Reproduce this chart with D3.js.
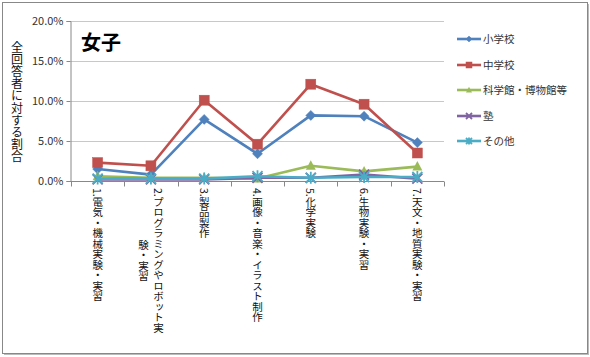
<!DOCTYPE html>
<html><head><meta charset="utf-8">
<script src="https://cdn.jsdelivr.net/npm/d3@7"></script>
<style>
body{margin:0;background:#fff;}
text{font-family:"Noto Sans CJK JP","Noto Sans",sans-serif;}
</style></head>
<body><svg id="c" width="590" height="357"></svg>
<script>
const categories = ["1.電気・機械実験・実習","2.プログラミングやロボット実験・実習","3.製品製作","4.画像・音楽・イラスト制作","5.化学実験","6.生物実験・実習","7.天文・地質実験・実習"];
const seriesNames = ["小学校","中学校","科学館・博物館等","塾","その他"];
const s小学校 = [1.5, 0.8, 7.7, 3.4, 8.2, 8.1, 4.8];
const s中学校 = [2.3, 1.9, 10.1, 4.6, 12.1, 9.6, 3.5];
const s科学館 = [0.6, 0.4, 0.4, 0.3, 1.9, 1.2, 1.8];
const s塾 = [0.2, 0.2, 0.2, 0.4, 0.4, 0.8, 0.3];
const sその他 = [0.3, 0.3, 0.3, 0.6, 0.4, 0.5, 0.5];
const yTicks = [0, 5, 10, 15, 20];
const title = "女子";
const yTitle = "全回答者に対する割合";

const seriesValues = [s小学校, s中学校, s科学館, s塾, sその他];
const colors = ["#4F81BD","#C0504D","#9BBB59","#8064A2","#4BACC6"];
const markers = ["diamond","square","triangle","x","asterisk"];

const svg = d3.select("#c");
svg.append("rect").attr("x",4).attr("y",4).attr("width",585).attr("height",351).attr("fill","#bbb");
svg.append("rect").attr("x",2.5).attr("y",2.5).attr("width",585).attr("height",351).attr("fill","#fff").attr("stroke","#888").attr("stroke-width",1);

const L=71, R=444, T=21, B=181;
const x = d3.scaleBand().domain(categories).range([L,R]);
const y = d3.scaleLinear().domain([0,20]).range([B,T]);

svg.append("g").selectAll("line").data(yTicks.filter(d=>d>0)).join("line")
  .attr("x1",L).attr("x2",R).attr("y1",d=>Math.round(y(d))+0.5).attr("y2",d=>Math.round(y(d))+0.5)
  .attr("stroke","#c8c8c8").attr("stroke-width",1);

const ya = svg.append("g").attr("transform",`translate(${L-0.5},0)`)
  .call(d3.axisLeft(y).tickValues(yTicks).tickFormat(d=>d.toFixed(1)+"%").tickSize(4).tickPadding(3));
ya.select(".domain").attr("stroke","#888");
ya.selectAll(".tick line").attr("stroke","#888");
ya.selectAll(".tick text").attr("font-size",11).attr("fill","#333").attr("font-family","'Liberation Sans',Arial,sans-serif");

const xa = svg.append("g").attr("transform",`translate(0,${Math.round(B)+0.5})`)
  .call(d3.axisBottom(x).tickSize(0).tickFormat(""));
xa.select(".domain").attr("stroke","#888").attr("d",`M${L},0H${R}`);
const bounds = categories.map(c=>x(c)).concat([R]);
xa.selectAll(".bnd").data(bounds).join("line").attr("class","bnd")
  .attr("x1",d=>Math.round(d)+0.5).attr("x2",d=>Math.round(d)+0.5).attr("y1",0).attr("y2",5).attr("stroke","#888");

// category labels (vertical, lines centered on each other)
const maxChars = 15;
const fs = 10.5;
categories.forEach(c=>{
  const chars = Array.from(c);
  const lines = [];
  for(let i=0;i<chars.length;i+=maxChars) lines.push(chars.slice(i,i+maxChars).join(""));
  const cx = x(c)+x.bandwidth()/2;
  const gap = 15;
  const top = 188;
  const texts = lines.map((ln,i)=>{
    const off = (lines.length-1)/2*gap - i*gap;
    return svg.append("text").attr("x",cx+off).attr("y",top)
      .style("writing-mode","vertical-rl").attr("font-size",fs).attr("fill","#111")
      .text(ln);
  });
  if(texts.length>1){
    const lens = texts.map(t=>t.node().getComputedTextLength());
    const mx = d3.max(lens);
    texts.forEach((t,i)=>t.attr("y", top + (mx-lens[i])/2));
  }
});

svg.append("text").attr("x",17).attr("y",41).style("writing-mode","vertical-rl")
  .attr("font-size",12).attr("letter-spacing",0.2).attr("fill","#111").text(yTitle);

svg.append("text").attr("x",81).attr("y",50).attr("font-size",20).attr("font-weight","bold").attr("fill","#000").text(title);

function drawMarker(g, type, color, s){
  if(type==="diamond") g.append("path").attr("d",`M0,${-s}L${s},0L0,${s}L${-s},0Z`).attr("fill",color).attr("stroke",color).attr("stroke-width",0.5);
  else if(type==="square") g.append("rect").attr("x",-s).attr("y",-s).attr("width",2*s).attr("height",2*s).attr("fill",color).attr("stroke",color).attr("stroke-width",0.5);
  else if(type==="triangle") g.append("path").attr("d",`M0,${-s*1.1}L${s},${s*0.8}L${-s},${s*0.8}Z`).attr("fill",color);
  else if(type==="x") g.append("path").attr("d",`M${-s},${-s}L${s},${s}M${-s},${s}L${s},${-s}`).attr("stroke",color).attr("stroke-width",1.8).attr("fill","none");
  else if(type==="asterisk") g.append("path").attr("d",`M${-s},${-s}L${s},${s}M${-s},${s}L${s},${-s}M0,${-s*1.2}L0,${s*1.2}`).attr("stroke",color).attr("stroke-width",1.8).attr("fill","none");
}

const line = d3.line().x((d,i)=>x(categories[i])+x.bandwidth()/2).y(d=>y(d));
seriesValues.forEach((vals,si)=>{
  const g = svg.append("g");
  g.append("path").datum(vals).attr("d",line).attr("fill","none").attr("stroke",colors[si]).attr("stroke-width",2.6).attr("stroke-linejoin","round");
  vals.forEach((v,i)=>{
    const mg = g.append("g").attr("transform",`translate(${x(categories[i])+x.bandwidth()/2},${y(v)})`);
    drawMarker(mg, markers[si], colors[si], 5);
  });
});

const legY = [39,65,90,116,141];
seriesNames.forEach((n,i)=>{
  const g = svg.append("g").attr("transform",`translate(457,${legY[i]})`);
  g.append("line").attr("x1",0).attr("x2",24).attr("y1",0).attr("y2",0).attr("stroke",colors[i]).attr("stroke-width",2.6);
  const mg = g.append("g").attr("transform","translate(12,0)");
  drawMarker(mg, markers[i], colors[i], 3);
  g.append("text").attr("x",26).attr("y",4).attr("font-size",10.5).attr("fill","#333").text(n);
});
</script></body></html>
